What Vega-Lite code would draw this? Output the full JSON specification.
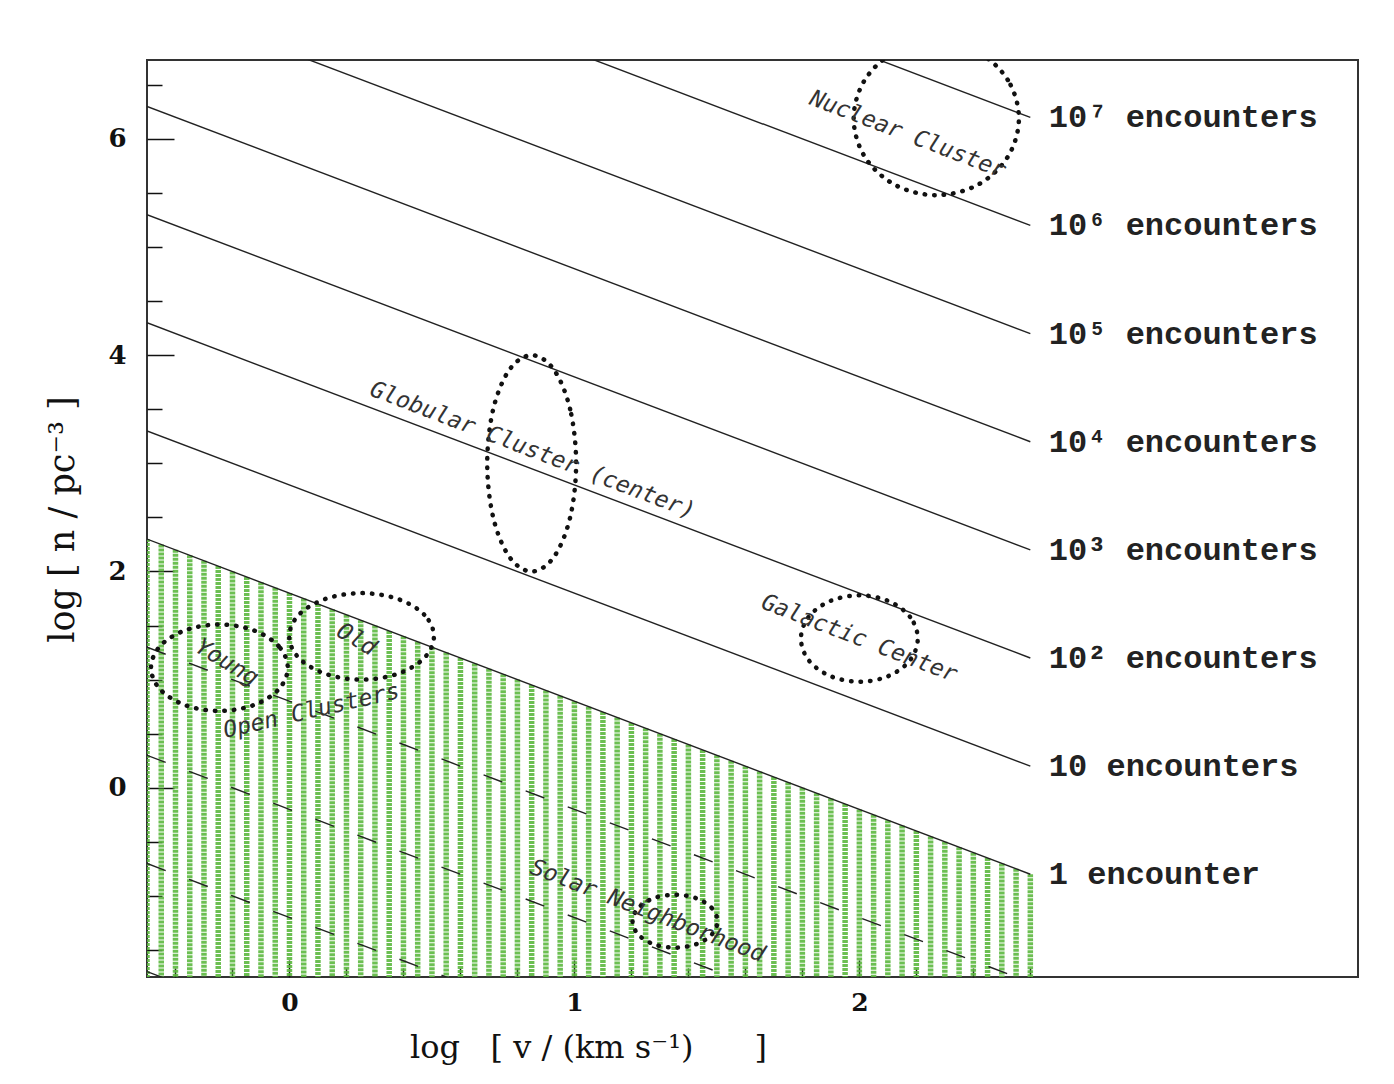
{
  "$schema": "https://vega.github.io/schema/vega-lite/v6.json",
  "width": 1211,
  "height": 917,
  "autosize": {"type": "none"},
  "padding": {"left": 147, "top": 60, "right": 36, "bottom": 107},
  "background": "white",
  "config": {
    "view": {"stroke": "#333333", "strokeWidth": 2},
    "axis": {"grid": false, "domain": false}
  },
  "datasets": {
    "hatch": [
      {"x": -0.5, "y": 2.3}, {"x": -0.45, "y": 2.25}, {"x": -0.4, "y": 2.2}, {"x": -0.35, "y": 2.15},
      {"x": -0.3, "y": 2.1}, {"x": -0.25, "y": 2.05}, {"x": -0.2, "y": 2.0}, {"x": -0.15, "y": 1.95},
      {"x": -0.1, "y": 1.9}, {"x": -0.05, "y": 1.85}, {"x": 0, "y": 1.8}, {"x": 0.05, "y": 1.75},
      {"x": 0.1, "y": 1.7}, {"x": 0.15, "y": 1.65}, {"x": 0.2, "y": 1.6}, {"x": 0.25, "y": 1.55},
      {"x": 0.3, "y": 1.5}, {"x": 0.35, "y": 1.45}, {"x": 0.4, "y": 1.4}, {"x": 0.45, "y": 1.35},
      {"x": 0.5, "y": 1.3}, {"x": 0.55, "y": 1.25}, {"x": 0.6, "y": 1.2}, {"x": 0.65, "y": 1.15},
      {"x": 0.7, "y": 1.1}, {"x": 0.75, "y": 1.05}, {"x": 0.8, "y": 1.0}, {"x": 0.85, "y": 0.95},
      {"x": 0.9, "y": 0.9}, {"x": 0.95, "y": 0.85}, {"x": 1.0, "y": 0.8}, {"x": 1.05, "y": 0.75},
      {"x": 1.1, "y": 0.7}, {"x": 1.15, "y": 0.65}, {"x": 1.2, "y": 0.6}, {"x": 1.25, "y": 0.55},
      {"x": 1.3, "y": 0.5}, {"x": 1.35, "y": 0.45}, {"x": 1.4, "y": 0.4}, {"x": 1.45, "y": 0.35},
      {"x": 1.5, "y": 0.3}, {"x": 1.55, "y": 0.25}, {"x": 1.6, "y": 0.2}, {"x": 1.65, "y": 0.15},
      {"x": 1.7, "y": 0.1}, {"x": 1.75, "y": 0.05}, {"x": 1.8, "y": 0.0}, {"x": 1.85, "y": -0.05},
      {"x": 1.9, "y": -0.1}, {"x": 1.95, "y": -0.15}, {"x": 2.0, "y": -0.2}, {"x": 2.05, "y": -0.25},
      {"x": 2.1, "y": -0.3}, {"x": 2.15, "y": -0.35}, {"x": 2.2, "y": -0.4}, {"x": 2.25, "y": -0.45},
      {"x": 2.3, "y": -0.5}, {"x": 2.35, "y": -0.55}, {"x": 2.4, "y": -0.6}, {"x": 2.45, "y": -0.65},
      {"x": 2.5, "y": -0.7}, {"x": 2.55, "y": -0.75}, {"x": 2.6, "y": -0.8}
    ],
    "lines": [
      {"id": "1", "x": -0.5, "y": 2.3}, {"id": "1", "x": 2.6, "y": -0.8},
      {"id": "10", "x": -0.5, "y": 3.3}, {"id": "10", "x": 2.6, "y": 0.2},
      {"id": "100", "x": -0.5, "y": 4.3}, {"id": "100", "x": 2.6, "y": 1.2},
      {"id": "1e3", "x": -0.5, "y": 5.3}, {"id": "1e3", "x": 2.6, "y": 2.2},
      {"id": "1e4", "x": -0.5, "y": 6.3}, {"id": "1e4", "x": 2.6, "y": 3.2},
      {"id": "1e5", "x": -0.5, "y": 7.3}, {"id": "1e5", "x": 2.6, "y": 4.2},
      {"id": "1e6", "x": -0.5, "y": 8.3}, {"id": "1e6", "x": 2.6, "y": 5.2},
      {"id": "1e7", "x": -0.5, "y": 9.3}, {"id": "1e7", "x": 2.6, "y": 6.2}
    ],
    "dashed": [
      {"id": "a", "x": -0.5, "y": 1.3}, {"id": "a", "x": 2.6, "y": -1.8},
      {"id": "b", "x": -0.5, "y": 0.3}, {"id": "b", "x": 2.6, "y": -2.8},
      {"id": "c", "x": -0.5, "y": -0.7}, {"id": "c", "x": 2.6, "y": -3.8},
      {"id": "d", "x": -0.5, "y": -1.7}, {"id": "d", "x": 2.6, "y": -4.8}
    ],
    "ellipses": [
      {"e": "nuclear", "o": 0, "x": 2.56, "y": 6.19}, {"e": "nuclear", "o": 1, "x": 2.521, "y": 6.545},
      {"e": "nuclear", "o": 2, "x": 2.415, "y": 6.805}, {"e": "nuclear", "o": 3, "x": 2.27, "y": 6.9},
      {"e": "nuclear", "o": 4, "x": 2.125, "y": 6.805}, {"e": "nuclear", "o": 5, "x": 2.019, "y": 6.545},
      {"e": "nuclear", "o": 6, "x": 1.98, "y": 6.19}, {"e": "nuclear", "o": 7, "x": 2.019, "y": 5.835},
      {"e": "nuclear", "o": 8, "x": 2.125, "y": 5.575}, {"e": "nuclear", "o": 9, "x": 2.27, "y": 5.48},
      {"e": "nuclear", "o": 10, "x": 2.415, "y": 5.575}, {"e": "nuclear", "o": 11, "x": 2.521, "y": 5.835},
      {"e": "globular", "o": 0, "x": 1.006, "y": 3.0}, {"e": "globular", "o": 1, "x": 0.985, "y": 3.5},
      {"e": "globular", "o": 2, "x": 0.928, "y": 3.866}, {"e": "globular", "o": 3, "x": 0.85, "y": 4.0},
      {"e": "globular", "o": 4, "x": 0.772, "y": 3.866}, {"e": "globular", "o": 5, "x": 0.715, "y": 3.5},
      {"e": "globular", "o": 6, "x": 0.694, "y": 3.0}, {"e": "globular", "o": 7, "x": 0.715, "y": 2.5},
      {"e": "globular", "o": 8, "x": 0.772, "y": 2.134}, {"e": "globular", "o": 9, "x": 0.85, "y": 2.0},
      {"e": "globular", "o": 10, "x": 0.928, "y": 2.134}, {"e": "globular", "o": 11, "x": 0.985, "y": 2.5},
      {"e": "galactic", "o": 0, "x": 2.205, "y": 1.38}, {"e": "galactic", "o": 1, "x": 2.178, "y": 1.58},
      {"e": "galactic", "o": 2, "x": 2.103, "y": 1.726}, {"e": "galactic", "o": 3, "x": 2.0, "y": 1.78},
      {"e": "galactic", "o": 4, "x": 1.897, "y": 1.726}, {"e": "galactic", "o": 5, "x": 1.822, "y": 1.58},
      {"e": "galactic", "o": 6, "x": 1.795, "y": 1.38}, {"e": "galactic", "o": 7, "x": 1.822, "y": 1.18},
      {"e": "galactic", "o": 8, "x": 1.897, "y": 1.034}, {"e": "galactic", "o": 9, "x": 2.0, "y": 0.98},
      {"e": "galactic", "o": 10, "x": 2.103, "y": 1.034}, {"e": "galactic", "o": 11, "x": 2.178, "y": 1.18},
      {"e": "old", "o": 0, "x": 0.507, "y": 1.4}, {"e": "old", "o": 1, "x": 0.473, "y": 1.6},
      {"e": "old", "o": 2, "x": 0.38, "y": 1.746}, {"e": "old", "o": 3, "x": 0.253, "y": 1.8},
      {"e": "old", "o": 4, "x": 0.126, "y": 1.746}, {"e": "old", "o": 5, "x": 0.033, "y": 1.6},
      {"e": "old", "o": 6, "x": -0.001, "y": 1.4}, {"e": "old", "o": 7, "x": 0.033, "y": 1.2},
      {"e": "old", "o": 8, "x": 0.126, "y": 1.054}, {"e": "old", "o": 9, "x": 0.253, "y": 1.0},
      {"e": "old", "o": 10, "x": 0.38, "y": 1.054}, {"e": "old", "o": 11, "x": 0.473, "y": 1.2},
      {"e": "young", "o": 0, "x": -0.006, "y": 1.11}, {"e": "young", "o": 1, "x": -0.038, "y": 1.31},
      {"e": "young", "o": 2, "x": -0.126, "y": 1.456}, {"e": "young", "o": 3, "x": -0.246, "y": 1.51},
      {"e": "young", "o": 4, "x": -0.366, "y": 1.456}, {"e": "young", "o": 5, "x": -0.454, "y": 1.31},
      {"e": "young", "o": 6, "x": -0.486, "y": 1.11}, {"e": "young", "o": 7, "x": -0.454, "y": 0.91},
      {"e": "young", "o": 8, "x": -0.366, "y": 0.764}, {"e": "young", "o": 9, "x": -0.246, "y": 0.71},
      {"e": "young", "o": 10, "x": -0.126, "y": 0.764}, {"e": "young", "o": 11, "x": -0.038, "y": 0.91},
      {"e": "solar", "o": 0, "x": 1.502, "y": -1.234}, {"e": "solar", "o": 1, "x": 1.482, "y": -1.112},
      {"e": "solar", "o": 2, "x": 1.428, "y": -1.022}, {"e": "solar", "o": 3, "x": 1.353, "y": -0.989},
      {"e": "solar", "o": 4, "x": 1.278, "y": -1.022}, {"e": "solar", "o": 5, "x": 1.224, "y": -1.112},
      {"e": "solar", "o": 6, "x": 1.204, "y": -1.234}, {"e": "solar", "o": 7, "x": 1.224, "y": -1.357},
      {"e": "solar", "o": 8, "x": 1.278, "y": -1.446}, {"e": "solar", "o": 9, "x": 1.353, "y": -1.479},
      {"e": "solar", "o": 10, "x": 1.428, "y": -1.446}, {"e": "solar", "o": 11, "x": 1.482, "y": -1.357}
    ],
    "ends": [
      {"x": 2.665, "y": -0.8, "text": "1 encounter"},
      {"x": 2.665, "y": 0.2, "text": "10 encounters"},
      {"x": 2.665, "y": 1.2, "text": "10² encounters"},
      {"x": 2.665, "y": 2.2, "text": "10³ encounters"},
      {"x": 2.665, "y": 3.2, "text": "10⁴ encounters"},
      {"x": 2.665, "y": 4.2, "text": "10⁵ encounters"},
      {"x": 2.665, "y": 5.2, "text": "10⁶ encounters"},
      {"x": 2.665, "y": 6.2, "text": "10⁷ encounters"}
    ],
    "notes": [
      {"g": "a", "x": 2.17, "y": 6.04, "text": "Nuclear Cluster"},
      {"g": "a", "x": 0.853, "y": 3.12, "text": "Globular Cluster (center)"},
      {"g": "a", "x": 2.0, "y": 1.38, "text": "Galactic Center"},
      {"g": "a", "x": 1.257, "y": -1.14, "text": "Solar Neighborhood"},
      {"g": "b", "x": 0.235, "y": 1.37, "text": "Old"},
      {"g": "b", "x": -0.22, "y": 1.16, "text": "Young"},
      {"g": "c", "x": 0.077, "y": 0.71, "text": "Open Clusters"}
    ]
  },
  "encoding": {
    "x": {
      "field": "x", "type": "quantitative",
      "scale": {"domain": [-0.5, 3.75], "nice": false, "zero": false},
      "axis": {
        "title": "log\u00a0\u00a0 [ v / (km s⁻¹)\u00a0\u00a0\u00a0\u00a0\u00a0 ]",
        "values": [-0.4, -0.2, 0, 0.2, 0.4, 0.6, 0.8, 1, 1.2, 1.4, 1.6, 1.8, 2, 2.2, 2.4, 2.6],
        "tickSize": {"condition": {"test": "abs(datum.value - round(datum.value)) < 0.001", "value": -17}, "value": -9},
        "tickColor": "#111111", "tickWidth": 1.5,
        "labelExpr": "abs(datum.value - round(datum.value)) < 0.001 ? format(datum.value, 'd') : ''",
        "labelFont": "DejaVu Serif", "labelFontSize": 25, "labelFontWeight": "bold", "labelColor": "#111111",
        "labelPadding": 30, "labelFlush": false, "labelOverlap": false,
        "titleFont": "DejaVu Serif", "titleFontSize": 32, "titleFontWeight": "normal", "titleColor": "#111111",
        "titleX": 441, "titleY": 80, "titleBaseline": "alphabetic", "titleAlign": "center"
      }
    },
    "y": {
      "field": "y", "type": "quantitative",
      "scale": {"domain": [-1.75, 6.73], "nice": false, "zero": false},
      "axis": {
        "title": "log [ n / pc⁻³ ]",
        "values": [-1.5, -1, -0.5, 0, 0.5, 1, 1.5, 2, 2.5, 3, 3.5, 4, 4.5, 5, 5.5, 6, 6.5],
        "tickSize": {"condition": {"test": "abs(datum.value/2 - round(datum.value/2)) < 0.001", "value": -27}, "value": -15},
        "tickColor": "#111111", "tickWidth": 1.5,
        "labelExpr": "abs(datum.value/2 - round(datum.value/2)) < 0.001 ? format(datum.value, 'd') : ''",
        "labelFont": "DejaVu Serif", "labelFontSize": 26, "labelFontWeight": "bold", "labelColor": "#111111",
        "labelPadding": 48, "labelFlush": false, "labelOverlap": false,
        "titleFont": "DejaVu Serif", "titleFontSize": 35, "titleFontWeight": "normal", "titleColor": "#111111",
        "titleAngle": -90, "titleX": -74, "titleY": 459, "titleBaseline": "alphabetic", "titleAlign": "center"
      }
    }
  },
  "layer": [
    {
      "data": {"name": "hatch"},
      "mark": {"type": "rule", "color": "#5cb83f", "strokeWidth": 5.5, "strokeDash": [3, 1], "opacity": 0.9, "clip": true},
      "encoding": {"y2": {"datum": -1.75}}
    },
    {
      "data": {"name": "lines"},
      "mark": {"type": "line", "color": "#222222", "strokeWidth": 1.4, "clip": true},
      "encoding": {"detail": {"field": "id"}}
    },
    {
      "data": {"name": "dashed"},
      "mark": {"type": "line", "color": "#222222", "strokeWidth": 1.4, "strokeDash": [20, 25], "clip": true},
      "encoding": {"detail": {"field": "id"}}
    },
    {
      "data": {"name": "ellipses"},
      "mark": {"type": "line", "color": "#111111", "strokeWidth": 4.5, "strokeDash": [0.5, 9], "strokeCap": "round", "interpolate": "cardinal-closed", "tension": 0, "clip": true},
      "encoding": {"detail": {"field": "e"}, "order": {"field": "o", "type": "quantitative"}}
    },
    {
      "data": {"name": "ends"},
      "mark": {"type": "text", "align": "left", "baseline": "middle", "font": "Liberation Mono", "fontSize": 32, "fontWeight": "bold", "color": "#222222"},
      "encoding": {"text": {"field": "text"}}
    },
    {
      "data": {"name": "notes"},
      "transform": [{"filter": "datum.g === 'a'"}],
      "mark": {"type": "text", "align": "center", "baseline": "middle", "angle": 21, "font": "DejaVu Sans Mono", "fontStyle": "italic", "fontSize": 23, "color": "#333333"},
      "encoding": {"text": {"field": "text"}}
    },
    {
      "data": {"name": "notes"},
      "transform": [{"filter": "datum.g === 'b'"}],
      "mark": {"type": "text", "align": "center", "baseline": "middle", "angle": 31, "font": "DejaVu Sans Mono", "fontStyle": "italic", "fontSize": 23, "color": "#333333"},
      "encoding": {"text": {"field": "text"}}
    },
    {
      "data": {"name": "notes"},
      "transform": [{"filter": "datum.g === 'c'"}],
      "mark": {"type": "text", "align": "center", "baseline": "middle", "angle": -13, "font": "DejaVu Sans Mono", "fontStyle": "italic", "fontSize": 23, "color": "#333333"},
      "encoding": {"text": {"field": "text"}}
    }
  ]
}
